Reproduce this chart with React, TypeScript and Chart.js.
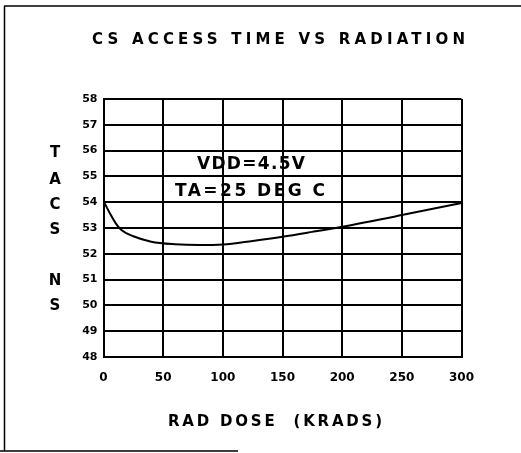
import React, { useEffect, useRef } from "react";
import { Chart, registerables } from "chart.js";

Chart.register(...registerables);

const doseKrads = [0, 5, 10, 15, 25, 40, 60, 80, 100, 125, 150, 175, 200, 250, 300];
const tacsNs = [54.05, 53.6, 53.2, 52.92, 52.68, 52.47, 52.37, 52.34, 52.36, 52.5, 52.66, 52.85, 53.05, 53.5, 53.97];
const xTicks = [0, 50, 100, 150, 200, 250, 300];
const yTicks = [48, 49, 50, 51, 52, 53, 54, 55, 56, 57, 58];
const chartTitle = "CS ACCESS TIME VS RADIATION";
const xTitle = "RAD DOSE  (KRADS)";
const yTitleLetters = ["T", "A", "C", "S", "", "N", "S"];
const notes = ["VDD=4.5V", "TA=25 DEG C"];

function drawSpaced(ctx: CanvasRenderingContext2D, text: string, cx: number, cy: number, width: number, font: string) {
  ctx.save();
  ctx.font = font;
  (ctx as any).letterSpacing = "0px";
  const w = ctx.measureText(text).width;
  const n = text.length;
  const sp = n > 1 ? (width - w) / (n - 1) : 0;
  (ctx as any).letterSpacing = sp + "px";
  ctx.fillStyle = "#000";
  ctx.textAlign = "left";
  ctx.textBaseline = "middle";
  ctx.fillText(text, cx - width / 2, cy);
  ctx.restore();
}

const textPlugin = {
  id: "textPlugin",
  beforeDraw(chart: any) {
    const ctx = chart.ctx as CanvasRenderingContext2D;
    ctx.save();
    ctx.fillStyle = "#fff";
    ctx.fillRect(0, 0, chart.width, chart.height);
    ctx.strokeStyle = "#000";
    ctx.lineWidth = 1.5;
    ctx.beginPath();
    ctx.moveTo(4.5, 6);
    ctx.lineTo(4.5, 451);
    ctx.moveTo(4, 6);
    ctx.lineTo(521, 6);
    ctx.moveTo(0, 451);
    ctx.lineTo(238, 451);
    ctx.stroke();
    ctx.restore();
  },
  afterDraw(chart: any) {
    const ctx = chart.ctx as CanvasRenderingContext2D;
    drawSpaced(ctx, chartTitle, 278.5, 40, 373, "bold 15px 'DejaVu Sans'");
    drawSpaced(ctx, xTitle, 275, 422, 214, "bold 15px 'DejaVu Sans'");
    const ys = [153, 180, 205, 230, 255, 281, 306];
    ctx.save();
    ctx.font = "bold 15px 'DejaVu Sans'";
    ctx.fillStyle = "#000";
    ctx.textAlign = "center";
    ctx.textBaseline = "middle";
    yTitleLetters.forEach((l, i) => {
      if (l) ctx.fillText(l, 55, ys[i]);
    });
    ctx.restore();
    drawSpaced(ctx, notes[0], 251, 165, 108, "bold 17px 'DejaVu Sans'");
    drawSpaced(ctx, notes[1], 250, 192, 150, "bold 17px 'DejaVu Sans'");
  },
};

export default function App() {
  const ref = useRef<HTMLCanvasElement | null>(null);
  useEffect(() => {
    if (!ref.current) return;
    const chart = new Chart(ref.current, {
      type: "line",
      data: {
        datasets: [
          {
            data: doseKrads.map((x, i) => ({ x, y: tacsNs[i] })),
            borderColor: "#000",
            borderWidth: 2,
            pointRadius: 0,
            cubicInterpolationMode: "monotone",
            fill: false,
          },
        ],
      },
      options: {
        responsive: false,
        animation: false,
        layout: { padding: { left: 0, right: 59.5, top: 99, bottom: 0 } },
        plugins: { legend: { display: false }, title: { display: false }, tooltip: { enabled: false } },
        scales: {
          x: {
            type: "linear",
            min: 0,
            max: 300,
            afterBuildTicks: (s: any) => {
              s.ticks = xTicks.map((v) => ({ value: v }));
            },
            afterFit: (s: any) => {
              s.height = 96;
            },
            grid: { color: "#000", lineWidth: 2, drawTicks: false },
            border: { color: "#000", width: 2 },
            ticks: {
              color: "#000",
              padding: 14,
              maxRotation: 0,
              font: { family: "'DejaVu Sans'", size: 12, weight: "bold" },
            },
          },
          y: {
            type: "linear",
            min: 48,
            max: 58,
            afterBuildTicks: (s: any) => {
              s.ticks = yTicks.map((v) => ({ value: v }));
            },
            afterFit: (s: any) => {
              s.width = 103.5;
            },
            grid: { color: "#000", lineWidth: 2, drawTicks: false },
            border: { color: "#000", width: 2 },
            ticks: {
              color: "#000",
              padding: 6,
              font: { family: "'DejaVu Sans'", size: 11, weight: "bold" },
            },
          },
        },
      },
      plugins: [textPlugin],
    } as any);
    return () => chart.destroy();
  }, []);
  return (
    <div style={{ position: "fixed", left: 0, top: 0, width: 521, height: 453, background: "#fff" }}>
      <canvas ref={ref} width={521} height={453} style={{ display: "block" }} />
    </div>
  );
}
